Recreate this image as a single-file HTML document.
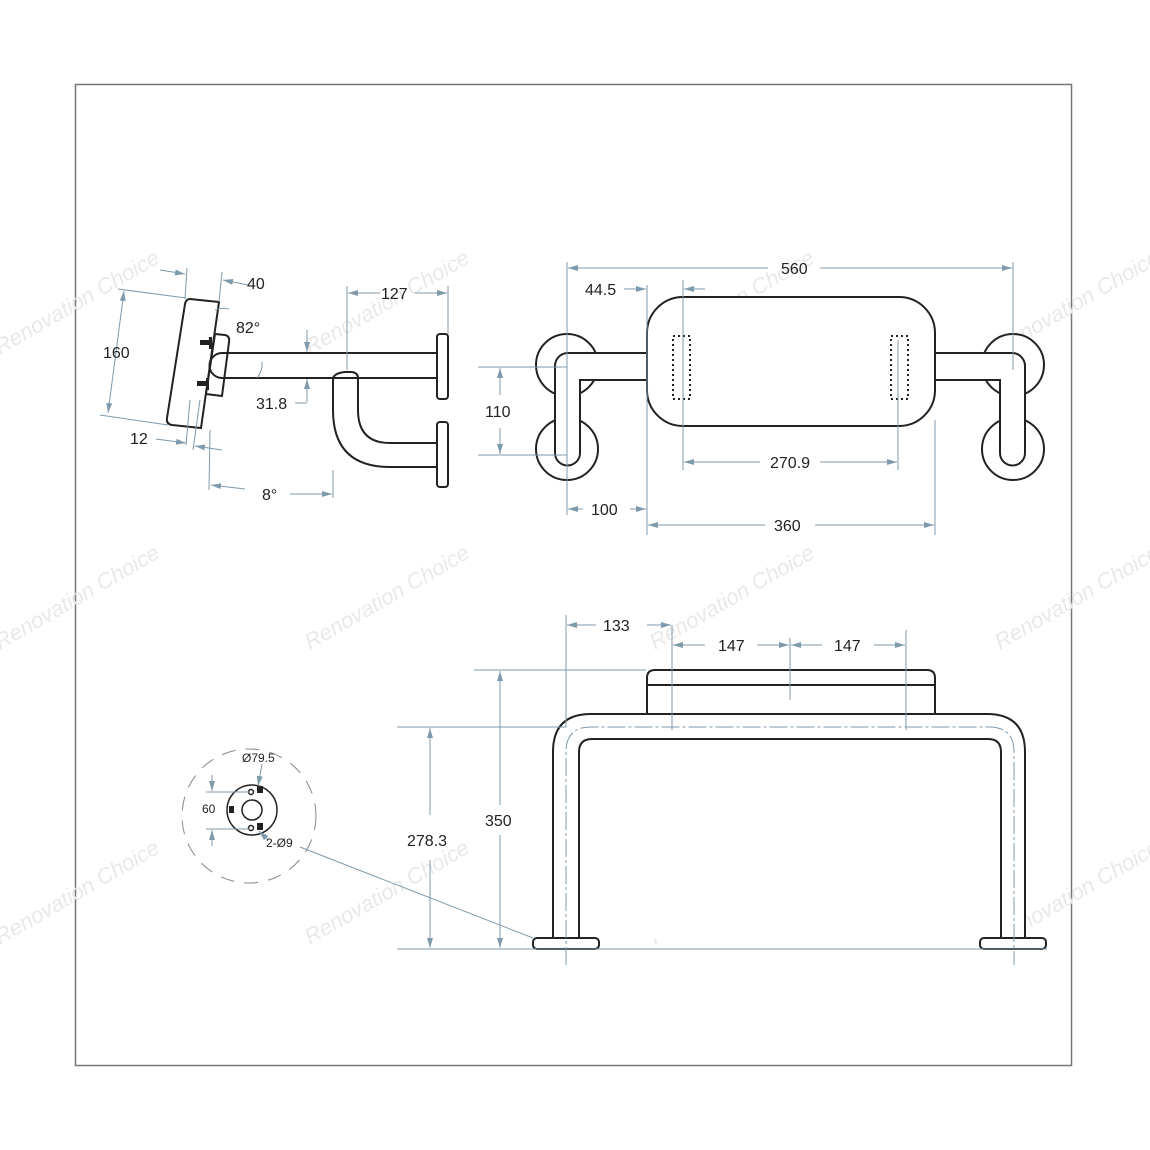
<!DOCTYPE html>
<html><head><meta charset="utf-8"><style>
html,body{margin:0;padding:0;background:#fff;}
svg{display:block;}
text{font-family:"Liberation Sans",Arial,sans-serif;}
</style></head><body>
<svg width="1150" height="1150" viewBox="0 0 1150 1150" xmlns="http://www.w3.org/2000/svg">
<defs>
<marker id="a" viewBox="0 0 10 6" refX="10" refY="3" markerWidth="10" markerHeight="6" orient="auto-start-reverse" markerUnits="userSpaceOnUse"><path d="M0,0 L10,3 L0,6 z" fill="#7f99ad"/></marker>
</defs>
<rect x="75.5" y="84.5" width="996" height="981" fill="none" stroke="#777" stroke-width="1.5"/>

<g fill="#e9e9e9" font-size="22" font-style="italic">
<text transform="translate(310,355) rotate(-30)">Renovation Choice</text>
<text transform="translate(655,355) rotate(-30)">Renovation Choice</text>
<text transform="translate(310,650) rotate(-30)">Renovation Choice</text>
<text transform="translate(655,650) rotate(-30)">Renovation Choice</text>
<text transform="translate(310,945) rotate(-30)">Renovation Choice</text>
<text transform="translate(655,945) rotate(-30)">Renovation Choice</text>
<text transform="translate(0,355) rotate(-30)">Renovation Choice</text>
<text transform="translate(0,650) rotate(-30)">Renovation Choice</text>
<text transform="translate(0,945) rotate(-30)">Renovation Choice</text>
<text transform="translate(1000,355) rotate(-30)">Renovation Choice</text>
<text transform="translate(1000,650) rotate(-30)">Renovation Choice</text>
<text transform="translate(1000,945) rotate(-30)">Renovation Choice</text>
</g>

<g fill="none" stroke="#222" stroke-width="2">
<path d="M190,299 L219,302 L201,428 L172,425 Q166,424 167,418 L185,304 Q186,299 190,299 Z" fill="#fff"/>
<path d="M215,334 L225,335 Q230,336 229,342 L222,396 L206,394 Z" fill="#fff"/>
<path d="M437,353 L222,353 A12.5,12.5 0 0 0 222,378 L437,378"/>
<path d="M333,378 Q335,373 345,372 L352,372 Q358,373 358,378 L358,410 Q358,443 390,443 L437,443 M333,378 L333,410 Q333,467 390,467 L437,467"/>
<rect x="437" y="334" width="11" height="65" rx="3" fill="#fff"/>
<rect x="437" y="422" width="11" height="65" rx="3" fill="#fff"/>
</g>
<g fill="#222">
<rect x="200" y="340" width="10" height="5"/><rect x="197" y="381" width="10" height="5"/>
<rect x="209" y="337" width="3" height="12"/><rect x="206" y="378" width="3" height="12"/>
</g>

<g stroke="#7f99ad" stroke-width="1" fill="none">
<line x1="185" y1="299" x2="187" y2="268"/><line x1="219" y1="302" x2="222" y2="272"/>
<line x1="160" y1="270" x2="185" y2="274" marker-end="url(#a)"/>
<line x1="248" y1="285" x2="223" y2="280" marker-end="url(#a)"/>
<line x1="118" y1="289" x2="186" y2="298"/><line x1="100" y1="415" x2="168" y2="425"/>
<line x1="124" y1="291" x2="108" y2="413" marker-start="url(#a)" marker-end="url(#a)"/>
<line x1="190" y1="400" x2="186" y2="445"/><line x1="200" y1="400" x2="193" y2="450"/>
<line x1="156" y1="439" x2="186" y2="443" marker-end="url(#a)"/>
<line x1="222" y1="450" x2="195" y2="446" marker-end="url(#a)"/>
<line x1="210" y1="430" x2="209" y2="490"/>
<line x1="333" y1="470" x2="333" y2="498"/>
<line x1="245" y1="489" x2="211" y2="485" marker-end="url(#a)"/>
<line x1="290" y1="494" x2="332" y2="494" marker-end="url(#a)"/>
<line x1="347" y1="286" x2="347" y2="370"/><line x1="448" y1="286" x2="448" y2="334"/>
<line x1="380" y1="293" x2="348" y2="293" marker-end="url(#a)"/>
<line x1="415" y1="293" x2="447" y2="293" marker-end="url(#a)"/>
<line x1="307" y1="330" x2="307" y2="352" marker-end="url(#a)"/>
<line x1="307" y1="402" x2="307" y2="379" marker-end="url(#a)"/>
<line x1="295" y1="403" x2="307" y2="403"/>
<path d="M257,378 Q263,370 262,362"/>
<path d="M215,310 Q222,307 229,309"/>
</g>
<g font-size="16" fill="#222">
<text x="247" y="289">40</text><text x="381" y="299">127</text>
<text x="236" y="333">82°</text><text x="103" y="358">160</text>
<text x="256" y="409">31.8</text><text x="130" y="444">12</text>
<text x="262" y="500">8°</text>
</g>

<g fill="#fff" stroke="#222" stroke-width="2">
<circle cx="567" cy="365" r="31"/><circle cx="567" cy="449" r="31"/>
<circle cx="1013" cy="365" r="31"/><circle cx="1013" cy="449" r="31"/>
<path d="M648,353 L567,353 A13,13 0 0 0 555,366 L555,453 A12.5,12.5 0 0 0 580,453 L580,380 L648,380"/>
<path d="M934,353 L1013,353 A13,13 0 0 1 1025,366 L1025,453 A12.5,12.5 0 0 1 1000,453 L1000,380 L934,380"/>
<rect x="647" y="297" width="288" height="129" rx="36"/>
</g>
<g fill="none" stroke="#222" stroke-width="2" stroke-dasharray="2,3">
<rect x="673" y="336" width="17" height="63"/><rect x="891" y="336" width="17" height="63"/>
</g>
<g stroke="#7f99ad" stroke-width="1" fill="none">
<line x1="567" y1="262" x2="567" y2="515"/><line x1="1013" y1="262" x2="1013" y2="370"/>
<line x1="647" y1="285" x2="647" y2="535"/><line x1="935" y1="420" x2="935" y2="535"/>
<line x1="683" y1="280" x2="683" y2="470"/><line x1="898" y1="340" x2="898" y2="470"/>
<line x1="768" y1="268" x2="568" y2="268" marker-end="url(#a)"/>
<line x1="820" y1="268" x2="1012" y2="268" marker-end="url(#a)"/>
<line x1="624" y1="289" x2="646" y2="289" marker-end="url(#a)"/>
<line x1="705" y1="289" x2="684" y2="289" marker-end="url(#a)"/>
<line x1="478" y1="367" x2="567" y2="367"/><line x1="478" y1="455" x2="567" y2="455"/>
<line x1="500" y1="395" x2="500" y2="368" marker-end="url(#a)"/>
<line x1="500" y1="428" x2="500" y2="454" marker-end="url(#a)"/>
<line x1="760" y1="462" x2="684" y2="462" marker-end="url(#a)"/>
<line x1="820" y1="462" x2="897" y2="462" marker-end="url(#a)"/>
<line x1="583" y1="509" x2="568" y2="509" marker-end="url(#a)"/>
<line x1="630" y1="509" x2="646" y2="509" marker-end="url(#a)"/>
<line x1="765" y1="525" x2="648" y2="525" marker-end="url(#a)"/>
<line x1="815" y1="525" x2="934" y2="525" marker-end="url(#a)"/>
</g>
<g font-size="16" fill="#222">
<text x="781" y="274">560</text><text x="585" y="295">44.5</text>
<text x="485" y="417">110</text><text x="770" y="468">270.9</text>
<text x="591" y="515">100</text><text x="774" y="531">360</text>
</g>

<g fill="#fff" stroke="#222" stroke-width="2">
<path d="M647,714 L647,678 Q647,670 655,670 L927,670 Q935,670 935,678 L935,714"/>
<line x1="647" y1="685" x2="935" y2="685"/>
<path d="M553,939 L553,752 Q553,714 591,714 L987,714 Q1025,714 1025,752 L1025,939 M579,939 L579,752 Q579,739 592,739 L988,739 Q1001,739 1001,752 L1001,939"/>
<rect x="533" y="938" width="66" height="11" rx="4"/>
<rect x="980" y="938" width="66" height="11" rx="4"/>
</g>
<g stroke="#7f99ad" stroke-width="1" fill="none">
<path d="M566,965 L566,752 Q566,727 591,727 L989,727 Q1014,727 1014,752 L1014,965" stroke-dasharray="18,3,3,3"/>
<line x1="397" y1="949" x2="1047" y2="949"/>
<line x1="397" y1="727" x2="566" y2="727"/>
<line x1="474" y1="670" x2="646" y2="670"/>
<line x1="566" y1="615" x2="566" y2="727"/>
<line x1="672" y1="625" x2="672" y2="730"/><line x1="790" y1="638" x2="790" y2="700"/>
<line x1="906" y1="630" x2="906" y2="730"/>
<line x1="430" y1="815" x2="430" y2="728" marker-end="url(#a)"/>
<line x1="430" y1="860" x2="430" y2="948" marker-end="url(#a)"/>
<line x1="500" y1="805" x2="500" y2="671" marker-end="url(#a)"/>
<line x1="500" y1="835" x2="500" y2="948" marker-end="url(#a)"/>
<line x1="596" y1="625" x2="567" y2="625" marker-end="url(#a)"/>
<line x1="647" y1="625" x2="671" y2="625" marker-end="url(#a)"/>
<line x1="705" y1="645" x2="673" y2="645" marker-end="url(#a)"/>
<line x1="757" y1="645" x2="789" y2="645" marker-end="url(#a)"/>
<line x1="822" y1="645" x2="791" y2="645" marker-end="url(#a)"/>
<line x1="874" y1="645" x2="905" y2="645" marker-end="url(#a)"/>
<line x1="300" y1="847" x2="533" y2="938"/>
</g>
<g font-size="16" fill="#222">
<text x="407" y="846">278.3</text><text x="485" y="826">350</text>
<text x="603" y="631">133</text><text x="718" y="651">147</text><text x="834" y="651">147</text>
</g>

<g fill="none" stroke="#888" stroke-width="1" stroke-dasharray="14,10">
<circle cx="249" cy="816" r="67"/>
</g>
<g fill="#fff" stroke="#222" stroke-width="1.5">
<circle cx="252" cy="810" r="25"/><circle cx="252" cy="810" r="10"/>
<circle cx="251" cy="792" r="2.5"/><circle cx="251" cy="828" r="2.5"/>
</g>
<g fill="#222">
<rect x="257" y="786" width="6" height="7"/><rect x="257" y="823" width="6" height="7"/>
<rect x="229" y="806" width="5" height="7"/>
</g>
<g stroke="#7f99ad" stroke-width="1" fill="none">
<line x1="206" y1="792" x2="250" y2="792"/><line x1="206" y1="829" x2="250" y2="829"/>
<line x1="212" y1="775" x2="212" y2="791" marker-end="url(#a)"/>
<line x1="212" y1="846" x2="212" y2="830" marker-end="url(#a)"/>
<line x1="262" y1="764" x2="258" y2="786" marker-end="url(#a)"/>
<line x1="268" y1="840" x2="259" y2="831" marker-end="url(#a)"/>
</g>
<g font-size="12" fill="#222">
<text x="242" y="762">Ø79.5</text><text x="202" y="813">60</text><text x="266" y="847">2-Ø9</text>
</g>
</svg>
</body></html>
